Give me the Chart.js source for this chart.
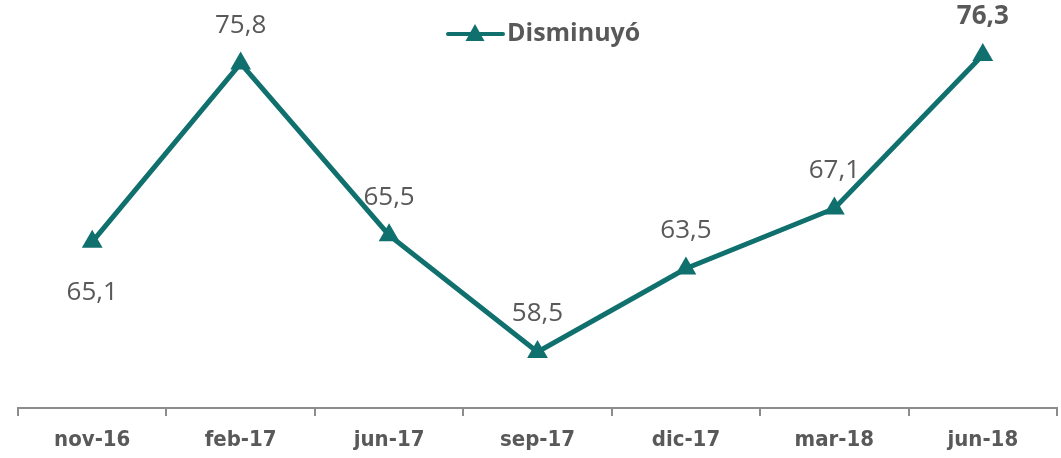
<!DOCTYPE html>
<html>
<head>
<meta charset="utf-8">
<script src="https://cdn.jsdelivr.net/npm/chart.js@4/dist/chart.umd.min.js"></script>
<style>
  html, body { margin: 0; padding: 0; background: #fff; }
  #wrap { width: 1061px; height: 458px; position: relative; }
</style>
</head>
<body>
<div id="wrap"><canvas id="grafico"></canvas></div>
<script>
// datos del gráfico
var periodos = ["nov-16", "feb-17", "jun-17", "sep-17", "dic-17", "mar-18", "jun-18"];
var disminuyo = [65.1, 75.8, 65.5, 58.5, 63.5, 67.1, 76.3];
var etiquetas = ["65,1", "75,8", "65,5", "58,5", "63,5", "67,1", "76,3"];

var verde = "#0f706e";
var gris = "#595959";

// leyenda dibujada a mano: línea con triángulo + texto
var leyendaPlugin = {
    id: "leyendaManual",
    afterDraw: function (chart) {
        var ctx = chart.ctx;
        var ds = chart.data.datasets[0];
        var y = 34;
        ctx.save();
        ctx.strokeStyle = verde;
        ctx.lineWidth = 4;
        ctx.lineCap = "round";
        ctx.beginPath();
        ctx.moveTo(448, y);
        ctx.lineTo(503, y);
        ctx.stroke();
        ctx.fillStyle = verde;
        ctx.beginPath();
        ctx.moveTo(475, y - 10);
        ctx.lineTo(484.5, y + 7);
        ctx.lineTo(465.5, y + 7);
        ctx.closePath();
        ctx.fill();
        ctx.fillStyle = gris;
        ctx.font = "bold 25px 'Open Sans', 'Noto Sans', sans-serif";
        ctx.textAlign = "left";
        ctx.textBaseline = "middle";
        ctx.fillText(ds.label, 507, y);
        ctx.restore();
    }
};

// etiquetas de datos
var etiquetasPlugin = {
    id: "etiquetasDatos",
    afterDatasetsDraw: function (chart) {
        var ctx = chart.ctx;
        var meta = chart.getDatasetMeta(0);
        ctx.save();
        ctx.fillStyle = gris;
        ctx.textAlign = "center";
        ctx.textBaseline = "middle";
        meta.data.forEach(function (pt, i) {
            var ultimo = i === etiquetas.length - 1;
            ctx.font = (ultimo ? "bold " : "") + "26px 'Open Sans', 'Noto Sans', sans-serif";
            var y = i === 0 ? pt.y + 51 : pt.y - 38;
            ctx.fillText(etiquetas[i], pt.x, y);
        });
        ctx.restore();
    }
};

var ctx = document.getElementById("grafico").getContext("2d");
new Chart(ctx, {
    type: "line",
    data: {
        labels: periodos,
        datasets: [
            {
                label: "Disminuyó",
                data: disminuyo,
                borderColor: verde,
                backgroundColor: verde,
                borderWidth: 5,
                pointStyle: "triangle",
                pointRadius: 12,
                pointBorderWidth: 0,
                pointBackgroundColor: verde,
                tension: 0,
                fill: false,
                clip: false
            }
        ]
    },
    options: {
        responsive: true,
        maintainAspectRatio: false,
        animation: false,
        layout: {
            autoPadding: false,
            padding: { top: 0, left: 18, right: 4, bottom: 0 }
        },
        scales: {
            x: {
                offset: true,
                afterFit: function (scale) {
                    scale.height = 50;
                },
                grid: {
                    offset: true,
                    drawOnChartArea: false,
                    drawTicks: true,
                    tickLength: 8,
                    color: "#8c8c8c",
                    lineWidth: 2
                },
                border: { display: true, color: "#8c8c8c", width: 2 },
                ticks: {
                    color: gris,
                    padding: 11,
                    font: { family: "'Liberation Sans Narrow', 'Arial Narrow', 'DejaVu Sans Condensed', sans-serif", size: 22, weight: "bold" }
                }
            },
            y: {
                display: false,
                min: 55.14,
                max: 79.6
            }
        },
        plugins: {
            legend: { display: false },
            tooltip: { enabled: false }
        }
    },
    plugins: [etiquetasPlugin, leyendaPlugin]
});
</script>
</body>
</html>
